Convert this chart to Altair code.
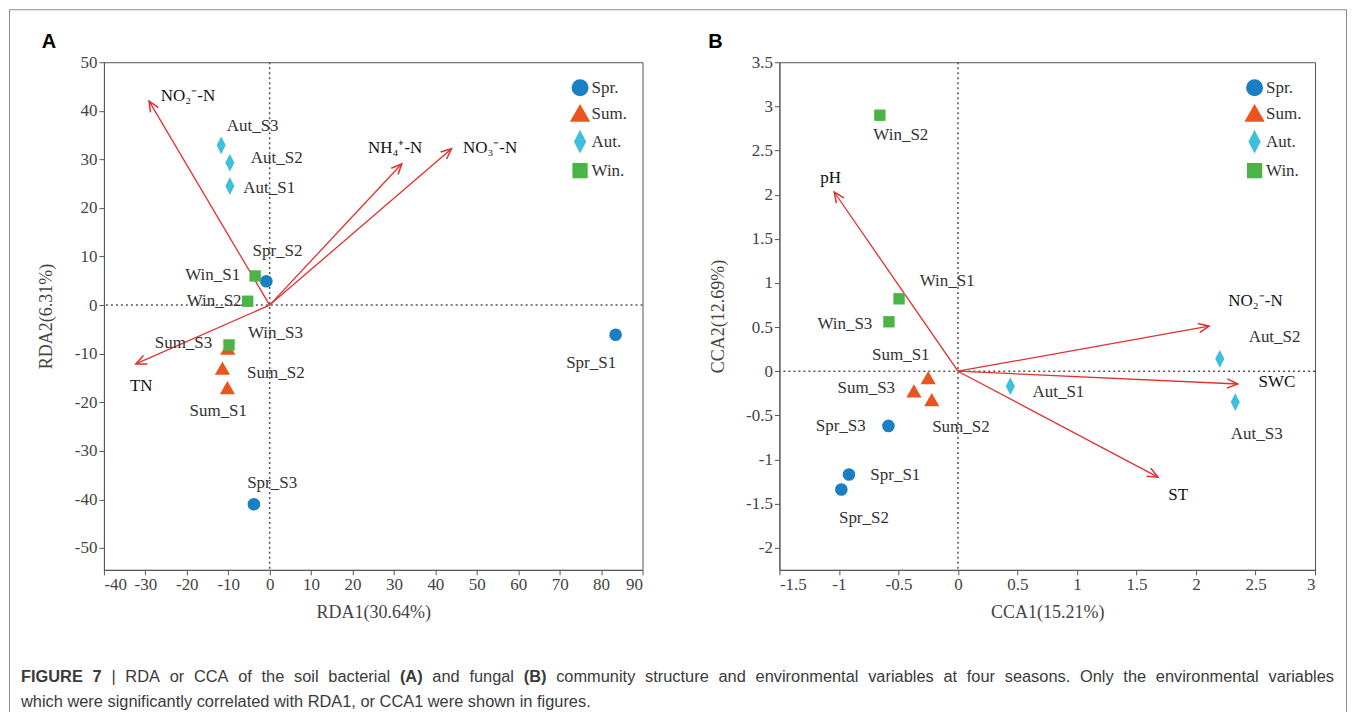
import math
import altair as alt
import pandas as pd

# ---------------- data ----------------
seasons = ["Spr.", "Sum.", "Aut.", "Win."]
season_colors = ["#1b7fc4", "#e9541f", "#3ebfdc", "#4bb447"]
season_shapes = [
    "circle",
    "M0,-1.15L1.2,0.95L-1.2,0.95Z",
    "M0,-1.4L0.72,0L0,1.4L-0.72,0Z",
    "M-0.9,-0.9L0.9,-0.9L0.9,0.9L-0.9,0.9Z",
]

sample_names = ["Spr_S1", "Spr_S2", "Spr_S3", "Sum_S1", "Sum_S2", "Sum_S3",
                "Aut_S1", "Aut_S2", "Aut_S3", "Win_S1", "Win_S2", "Win_S3"]
sample_seasons = ["Spr."] * 3 + ["Sum."] * 3 + ["Aut."] * 3 + ["Win."] * 3

# Panel A (RDA, bacteria)
a_rda1 = [83.5, -0.8, -3.8, -10.2, -11.4, -10.1, -9.6, -9.6, -11.7, -3.5, -5.3, -9.8]
a_rda2 = [-6.1, 4.9, -41.0, -17.1, -13.1, -9.0, 24.5, 29.3, 32.9, 6.0, 0.8, -8.2]
a_label_x = [77.6, 1.9, 0.6, -12.4, 1.5, -20.8, -0.1, 1.7, -4.1, -13.75, -13.4, 1.4]
a_label_y = [-11.9, 11.1, -36.7, -21.8, -13.9, -7.8, 24.2, 30.2, 36.9, 6.2, 0.8, -5.7]

a_env_names = ["NO\u2082\u207b-N", "NH\u2084\u207a-N", "NO\u2083\u207b-N", "TN"]
a_env_x = [-29.1, 31.9, 43.9, -32.3]
a_env_y = [42.0, 29.1, 32.2, -12.1]
a_env_label_x = [-19.7, 30.3, 53.2, -31.0]
a_env_label_y = [43.1, 32.4, 32.4, -16.7]

a_x_ticks = [-40, -30, -20, -10, 0, 10, 20, 30, 40, 50, 60, 70, 80, 90]
a_y_ticks = [-50, -40, -30, -20, -10, 0, 10, 20, 30, 40, 50]

# Panel B (CCA, fungi)
b_cca1 = [-0.916, -0.98, -0.584, -0.25, -0.22, -0.37, 0.44, 2.20, 2.33, -0.495, -0.656, -0.58]
b_cca2 = [-1.17, -1.34, -0.62, -0.08, -0.33, -0.23, -0.17, 0.14, -0.35, 0.82, 2.90, 0.56]
b_label_x = [-0.526, -0.79, -0.985, -0.48, 0.025, -0.77, 0.844, 2.66, 2.51, -0.09, -0.48, -0.95]
b_label_y = [-1.18, -1.66, -0.62, 0.18, -0.63, -0.19, -0.24, 0.39, -0.71, 1.02, 2.68, 0.54]

b_env_names = ["pH", "NO\u2082\u207b-N", "SWC", "ST"]
b_env_x = [-1.04, 2.11, 2.35, 1.68]
b_env_y = [2.03, 0.51, -0.145, -1.20]
b_env_label_x = [-1.07, 2.50, 2.68, 1.85]
b_env_label_y = [2.19, 0.80, -0.12, -1.40]

b_x_ticks = [-1.5, -1, -0.5, 0, 0.5, 1, 1.5, 2, 2.5, 3]
b_y_ticks = [-2, -1.5, -1, -0.5, 0, 0.5, 1, 1.5, 2, 2.5, 3, 3.5]

caption_words_1 = ["FIGURE", "7", "|", "RDA", "or", "CCA", "of", "the", "soil", "bacterial", "(A)",
                   "and", "fungal", "(B)", "community", "structure", "and", "environmental",
                   "variables", "at", "four", "seasons.", "Only", "the", "environmental", "variables"]
caption_bold_1 = ["FIGURE", "7", "(A)", "(B)"]
caption_line2 = "which were significantly correlated with RDA1, or CCA1 were shown in figures."

# ---------------- style ----------------
SERIF = "Liberation Serif"
SANS = "Liberation Sans"
ARROW_RED = "#e0302f"
TXT = "#333333"
W = 539
H = 508
WB = 536
CHEVRON = "M-0.42,0.95L0,0L0.42,0.95"
ONE = pd.DataFrame({"k": [0]})
CAP_SIZE = 16.4
CAP_COLOR = "#3a3a3a"

# Arial / Liberation Sans advance widths (per 1000 em) for justifying caption line 1
REG = {" ": 278, "(": 333, ")": 333, ",": 278, "-": 333, ".": 278, "|": 260,
       "A": 667, "B": 667, "C": 722, "D": 722, "E": 667, "F": 611, "G": 778, "I": 278,
       "O": 778, "R": 722, "U": 722,
       "a": 556, "b": 556, "c": 500, "d": 556, "e": 556, "f": 278, "g": 556, "h": 556,
       "i": 222, "j": 222, "k": 500, "l": 222, "m": 833, "n": 556, "o": 556, "p": 556,
       "q": 556, "r": 333, "s": 500, "t": 278, "u": 556, "v": 500, "w": 722, "x": 500,
       "y": 500, "z": 500}
BOLD = {" ": 278, "(": 333, ")": 333, "A": 722, "B": 722, "E": 667, "F": 611, "G": 778,
        "I": 278, "R": 722, "U": 722, "7": 556}
for d in "0123456789":
    REG[d] = 556


def text_width(word, bold):
    table = BOLD if bold else REG
    return sum(table.get(ch, 556) for ch in word) * CAP_SIZE / 1000.0


def panel(px, py, lx, ly, env_names, ex, ey, elx, ely, xdom, ydom, xt, yt,
          xtitle, ytitle, width, tag, tag_x, ytitle_x, legend_x):
    sx = width / (xdom[1] - xdom[0])
    sy = H / (ydom[1] - ydom[0])
    pts = pd.DataFrame({"x": px, "y": py, "lx": lx, "ly": ly,
                        "name": sample_names, "season": sample_seasons})
    env = pd.DataFrame({
        "x0": [0.0] * len(ex), "y0": [0.0] * len(ex), "x": ex, "y": ey,
        "lx": elx, "ly": ely, "name": env_names,
        "ang": [math.degrees(math.atan2(a * sx, b * sy)) % 360 for a, b in zip(ex, ey)],
    })
    xs = alt.Scale(domain=xdom, nice=False, zero=False)
    ys = alt.Scale(domain=ydom, nice=False, zero=False)
    xax = alt.Axis(values=xt, title=xtitle, labelExpr="'' + datum.value",
                   titleX=width / 2, titleY=43, titleBaseline="middle")
    yax = alt.Axis(values=yt, title=ytitle, labelExpr="'' + datum.value",
                   titleX=ytitle_x, titleY=H / 2, titleBaseline="middle",
                   titleAngle=270, titleAlign="center")

    def X(f):
        return alt.X(f, type="quantitative", scale=xs, axis=xax)

    def Y(f):
        return alt.Y(f, type="quantitative", scale=ys, axis=yax)

    zero_v = alt.Chart(ONE).mark_rule(color="#555", strokeDash=[2, 3], strokeWidth=1.5).encode(
        x=alt.X(datum=0, type="quantitative", scale=xs, axis=xax))
    zero_h = alt.Chart(ONE).mark_rule(color="#555", strokeDash=[2, 3], strokeWidth=1.5).encode(
        y=alt.Y(datum=0, type="quantitative", scale=ys, axis=yax))
    shafts = alt.Chart(env).mark_rule(color=ARROW_RED, strokeWidth=1.3).encode(
        x=X("x0"), y=Y("y0"), x2="x", y2="y")
    heads = alt.Chart(env).mark_point(shape=CHEVRON, filled=False, size=484, strokeWidth=1.5,
                                      color=ARROW_RED, opacity=1).encode(
        x=X("x"), y=Y("y"), angle=alt.Angle("ang:Q", scale=None))
    env_text = alt.Chart(env).mark_text(font=SERIF, fontSize=17, color="#111").encode(
        x=X("lx"), y=Y("ly"), text="name:N")
    legend = alt.Legend(title=None, orient="none", legendX=legend_x, legendY=17,
                        symbolSize=289, labelFont=SERIF, labelFontSize=17, labelColor=TXT,
                        rowPadding=7, labelOffset=3, padding=0, symbolStrokeWidth=0)
    points = alt.Chart(pts).mark_point(filled=True, size=160, opacity=1).encode(
        x=X("x"), y=Y("y"),
        color=alt.Color("season:N", scale=alt.Scale(domain=seasons, range=season_colors),
                        legend=legend),
        shape=alt.Shape("season:N", scale=alt.Scale(domain=seasons, range=season_shapes),
                        legend=legend),
    )
    labels = alt.Chart(pts).mark_text(font=SERIF, fontSize=17, color=TXT).encode(
        x=X("lx"), y=Y("ly"), text="name:N")
    tag_mark = alt.Chart(ONE).mark_text(font=SANS, fontSize=20, fontWeight="bold",
                                        color="#000", align="center", baseline="middle").encode(
        x=alt.value(tag_x), y=alt.value(-20), text=alt.value(tag))
    return [zero_v, zero_h, shafts, heads, env_text, points, labels, tag_mark]


layers_a = panel(a_rda1, a_rda2, a_label_x, a_label_y, a_env_names, a_env_x, a_env_y,
                 a_env_label_x, a_env_label_y, [-40, 90], [-54.5, 50], a_x_ticks, a_y_ticks,
                 "RDA1(30.64%)", "RDA2(6.31%)", W, "A", -55, -57, 468)
layers_b = panel(b_cca1, b_cca2, b_label_x, b_label_y, b_env_names, b_env_x, b_env_y,
                 b_env_label_x, b_env_label_y, [-1.5, 3], [-2.25, 3.5], b_x_ticks, b_y_ticks,
                 "CCA1(15.21%)", "CCA2(12.69%)", WB, "B", -64, -61, 467)

# outer frame (decoration) and caption, drawn in panel A's coordinate space
frame_col = "#8a8a8a"
frame = [
    alt.Chart(ONE).mark_rule(color=frame_col, strokeWidth=1).encode(
        x=alt.value(-94.5), y=alt.value(-52.5), y2=alt.value(650)),
    alt.Chart(ONE).mark_rule(color=frame_col, strokeWidth=1).encode(
        x=alt.value(1243.5), y=alt.value(-52.5), y2=alt.value(650)),
    alt.Chart(ONE).mark_rule(color=frame_col, strokeWidth=1).encode(
        x=alt.value(-94.5), x2=alt.value(1243.5), y=alt.value(-52.5)),
]

# justified first caption line: from x=-83 to x=1231 (panel A coordinates)
CAP_LEFT, CAP_RIGHT = -83.0, 1231.0
widths = [text_width(w, w in caption_bold_1) for w in caption_words_1]
gap = (CAP_RIGHT - CAP_LEFT - sum(widths)) / (len(caption_words_1) - 1)
caption = []
cursor = CAP_LEFT
for word, wd in zip(caption_words_1, widths):
    caption.append(alt.Chart(ONE).mark_text(
        font=SANS, fontSize=CAP_SIZE, fontWeight="bold" if word in caption_bold_1 else "normal",
        color=CAP_COLOR, align="left", baseline="middle").encode(
        x=alt.value(round(cursor, 2)), y=alt.value(615), text=alt.value(word)))
    cursor += wd + gap
caption.append(alt.Chart(ONE).mark_text(font=SANS, fontSize=CAP_SIZE, color=CAP_COLOR,
                                        align="left", baseline="middle").encode(
    x=alt.value(CAP_LEFT), y=alt.value(640), text=alt.value(caption_line2)))

panel_a = alt.layer(*(layers_a + frame + caption)).properties(width=W, height=H)
panel_b = alt.layer(*layers_b).properties(width=WB, height=H)

chart = alt.hconcat(panel_a, panel_b, spacing=137, bounds="flush").resolve_scale(
    x="independent", y="independent", color="independent", shape="independent"
).resolve_legend(color="independent", shape="independent").properties(
    padding=0, background="white"
).configure_view(stroke="#555", strokeWidth=1).configure_axis(
    domainColor="#555", tickColor="#555", tickSize=5, grid=False,
    labelFont=SERIF, labelFontSize=17, labelColor="#444", labelPadding=2,
    titleFont=SERIF, titleFontSize=18, titleFontWeight="normal", titleColor="#444",
)

chart.save("out.html", embed_options={"renderer": "svg", "actions": False})
